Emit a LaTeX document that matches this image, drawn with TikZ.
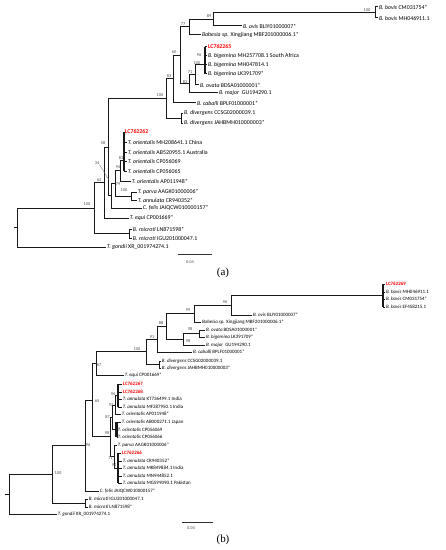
\documentclass[tikz,border=0pt]{standalone}
\usepackage{fontspec}
\setmainfont{Carlito}
\newfontfamily\panelfont{Liberation Serif}
\tikzset{
  leaf/.style={anchor=west, inner sep=0.8pt, font=\fontsize{#1}{7}\selectfont},
  leaf/.default=5.9,
  newseq/.style={leaf=#1, text=red, font=\fontsize{#1}{7}\selectfont\bfseries},
  newseq/.default=5.9,
  boot/.style={inner sep=0pt, text=black!70, font=\fontsize{4.4}{5}\selectfont},
  branch/.style={line width=1pt, black!90},
  clade/.style={line width=2.1pt, black!90},
}
\begin{document}
\begin{tikzpicture}[x=1bp, y=-1bp]
\useasboundingbox (0,0) rectangle (446,550);

%%%% tree (a)
\node[leaf] (aBovCM) at (378,7) {\textit{B. bovis} CM031754*};
\node[leaf] (aBovMH) at (378,18) {\textit{B. bovis} MH046911.1};
\node[leaf] (aOvis) at (242,26) {\textit{B. ovis} BLIY01000007*};
\node[leaf] (aBabSp) at (201,35) {\textit{Babesia sp.} Xingjiang MBF201000006.1*};
\node[newseq] (aLC65) at (207,47) {LC762265};
\node[leaf] (aBigSA) at (207,56) {\textit{B. bigemina} MH257708.1 South Africa};
\node[leaf] (aBigMH) at (207,65) {\textit{B. bigemina} MH047814.1};
\node[leaf] (aBigLK) at (207,74) {\textit{B. bigemina} LK391709*};
\node[leaf] (aOvata) at (199,85) {\textit{B. ovata} BDSA01000001*};
\node[leaf] (aMajor) at (218,93) {\textit{B. major}~ GU194290.1};
\node[leaf] (aCaballi) at (196,103) {\textit{B. caballi} BPLF01000001*};
\node[leaf] (aDivCC) at (183,113) {\textit{B. divergens} CCSG02000039.1};
\node[leaf] (aDivJA) at (183,123) {\textit{B. divergens} JAHBMH010000003*};
\node[newseq] (aLC62) at (124,132) {LC762262};
\node[leaf] (aOrMH) at (127,142) {\textit{T. orientalis} MH208641.1 China};
\node[leaf] (aOrAB) at (127,152) {\textit{T. orientalis} AB520955.1 Australia};
\node[leaf] (aOrCP69) at (127,161) {\textit{T. orientalis} CP056069};
\node[leaf] (aOrCP65) at (127,171) {\textit{T. orientalis} CP056065};
\node[leaf] (aOrAP) at (131,181) {\textit{T. orientalis} AP011948*};
\node[leaf] (aParva) at (137,192) {\textit{T. parva} AAGK01000006*};
\node[leaf] (aAnnCR) at (137,200) {\textit{T. annulata} CR940352*};
\node[leaf] (aFelis) at (142,208) {\textit{C. felis} JAIQCW010000157*};
\node[leaf] (aEqui) at (129,218) {\textit{T. equi} CP001669*};
\node[leaf] (aMicLN) at (132,229) {\textit{B. microti} LN871598*};
\node[leaf] (aMicIG) at (132,238) {\textit{B. microti} IGU201000047.1};
\node[leaf] (aGondii) at (106,247) {\textit{T. gondii} XR\_001974274.1};

\coordinate (aStub) at (14,227.5);
\coordinate (aRoot) at (17,227.5);
\coordinate (aN100t) at (94,208);
\coordinate (aMic) at (129,233.5);
\coordinate (aN62) at (104,182.5);
\coordinate (aN58) at (108,147);
\coordinate (aN34) at (111,195.5);
\coordinate (aN79) at (115,183);
\coordinate (aPA) at (131,196);
\coordinate (aN94) at (120,170.5);
\coordinate (aOr) at (124,160);
\coordinate (aN100b) at (166,98.5);
\coordinate (aDiv) at (181,118);
\coordinate (aN83) at (173,79);
\coordinate (aN60) at (180,55.5);
\coordinate (aN77) at (189,27);
\coordinate (aN89) at (213,19.25);
\coordinate (aBov) at (375,12.5);
\coordinate (aN82) at (189,84);
\coordinate (aN71) at (195,75);
\coordinate (aBig) at (205,65);

\draw[branch] (aStub) -- (aRoot);
\draw[branch] (aRoot) |- (aN100t);
\draw[branch] (aRoot) |- (aGondii.west);
\draw[branch] (aN100t) |- (aN62);
\draw[branch] (aN100t) |- (aMic);
\draw[branch] (aMic) |- (aMicLN.west);
\draw[branch] (aMic) |- (aMicIG.west);
\draw[branch] (aN62) |- (aN58);
\draw[branch] (aN62) |- (aEqui.west);
\draw[branch] (aN58) |- (aN100b);
\draw[branch] (aN58) |- (aN34);
\draw[branch] (aN34) |- (aN79);
\draw[branch] (aN34) |- (aFelis.west);
\draw[branch] (aN79) |- (aN94);
\draw[branch] (aN79) |- (aPA);
\draw[branch] (aPA) |- (aParva.west);
\draw[branch] (aPA) |- (aAnnCR.west);
\draw[branch] (aN94) |- (aOr);
\draw[branch] (aN94) |- (aOrAP.west);
\draw[clade] (aOr |- aLC62.west) -- (aOr |- aOrCP65.west);
\foreach \lf in {aLC62,aOrMH,aOrAB,aOrCP69,aOrCP65}
  \draw[branch] (aOr |- \lf.west) -- (\lf.west);
\draw[branch] (aN100b) |- (aN83);
\draw[branch] (aN100b) |- (aDiv);
\draw[branch] (aDiv) |- (aDivCC.west);
\draw[branch] (aDiv) |- (aDivJA.west);
\draw[branch] (aN83) |- (aN60);
\draw[branch] (aN83) |- (aCaballi.west);
\draw[branch] (aN60) |- (aN77);
\draw[branch] (aN60) |- (aN82);
\draw[branch] (aN77) |- (aN89);
\draw[branch] (aN77) |- (aBabSp.west);
\draw[branch] (aN89) |- (aBov);
\draw[branch] (aN89) |- (aOvis.west);
\draw[branch] (aBov) |- (aBovCM.west);
\draw[branch] (aBov) |- (aBovMH.west);
\draw[branch] (aN82) |- (aN71);
\draw[branch] (aN82) |- (aMajor.west);
\draw[branch] (aN71) |- (aBig);
\draw[branch] (aN71) |- (aOvata.west);
\draw[clade] (aBig |- aLC65.west) -- (aBig |- aBigLK.west);
\foreach \lf in {aLC65,aBigSA,aBigMH,aBigLK}
  \draw[branch] (aBig |- \lf.west) -- (\lf.west);

% bootstrap values (a)
\node[boot] (baBov) at (367,10) {100};
\node[boot] (ba89) at (209,16) {89};
\node[boot] (ba77) at (183,24) {77};
\node[boot] (ba96) at (199,55) {96};
\node[boot] (baBig) at (197,63) {100};
\node[boot] (ba71) at (190,72) {71};
\node[boot] (ba82) at (185,82) {82};
\node[boot] (ba60) at (174,52) {60};
\node[boot] (ba83) at (169,76) {83};
\node[boot] (baBab) at (160,95) {100};
\node[boot] (ba58) at (103,143) {58};
\node[boot] (ba34) at (97,163) {34};
\coordinate (aLead) at (109,180);
\draw[line width=0.3pt, black!60] (ba34.south east) -- (aLead);
\node[boot] (ba62) at (99,180) {62};
\node[boot] (ba79) at (118,184) {79};
\node[boot] (ba94) at (118,167) {94};
\node[boot] (baOr83) at (121,158) {83};
\node[boot] (baPA) at (124,190) {100};
\node[boot] (baTh) at (87,204) {100};

\coordinate (aSc1) at (178,254);
\coordinate (aSc2) at (212,254);
\draw[line width=0.6pt, black!80] (aSc1) -- (aSc2);
\node[boot] (aScale) at (190,262) {0.04};
\node[font=\panelfont\fontsize{11}{12}\selectfont] (capA) at (223,273) {(a)};

%%%% tree (b)
\node[newseq=5] (bLC69) at (385,284) {LC762269};
\node[leaf=5] (bBovMH) at (385,292) {\textit{B. bovis} MH046911.1};
\node[leaf=5] (bBovCM) at (385,299) {\textit{B. bovis} CM031754*};
\node[leaf=5] (bBovEF) at (385,307) {\textit{B. bovis} EF458215.1};
\node[leaf=5] (bOvis) at (252,315) {\textit{B. ovis} BLIY01000007*};
\node[leaf=5] (bBabSp) at (201,322) {\textit{Babesia sp.} Xingjiang MBF201000006.1*};
\node[leaf=5] (bOvata) at (205,330) {\textit{B. ovata} BDSA01000001*};
\node[leaf=5] (bBigLK) at (205,337) {\textit{B. bigemina} LK391709*};
\node[leaf=5] (bMajor) at (205,345) {\textit{B. major}~ GU194290.1};
\node[leaf=5] (bCaballi) at (192,352) {\textit{B. caballi} BPLF01000001*};
\node[leaf=5] (bDivCC) at (161,361) {\textit{B. divergens} CCSG02000039.1};
\node[leaf=5] (bDivJA) at (161,368) {\textit{B. divergens} JAHBMH010000003*};
\node[leaf=5] (bEqui) at (124,375) {\textit{T. equi} CP001669*};
\node[newseq=5] (bLC67) at (122,384) {LC762267};
\node[newseq=5] (bLC68) at (122,392) {LC762268};
\node[leaf=5] (bAnnKT) at (122,399) {\textit{T. annulata} KT736499.1 India};
\node[leaf=5] (bAnnMF) at (122,407) {\textit{T. annulata} MF287950.1 India};
\node[leaf=5] (bOrAP) at (121,414) {\textit{T. orientalis} AP011948*};
\node[leaf=5] (bOrAB) at (121,422) {\textit{T. orientalis} AB000271.1 Japan};
\node[leaf=5] (bOrCP69) at (117,430) {\textit{T. orientalis} CP056069};
\node[leaf=5] (bOrCP66) at (117,437) {\textit{T. orientalis} CP056066};
\node[leaf=5] (bParva) at (117,445) {\textit{T. parva} AAGK01000006*};
\node[newseq=5] (bLC66) at (121,453) {LC762266};
\node[leaf=5] (bAnnCR) at (122,461) {\textit{T. annulata} CR940352*};
\node[leaf=5] (bAnnMK) at (122,468) {\textit{T. annulata} MK849884.1 India};
\node[leaf=5] (bAnnMN) at (122,476) {\textit{T. annulata} MN944852.1};
\node[leaf=5] (bAnnMG) at (122,483) {\textit{T. annulata} MG599090.1 Pakistan};
\node[leaf=5] (bFelis) at (99,491) {\textit{C. felis} JAIQCW010000157*};
\node[leaf=5] (bMicIG) at (88,499) {\textit{B. microti} IGU201000047.1};
\node[leaf=5] (bMicLN) at (88,507) {\textit{B. microti} LN871598*};
\node[leaf=5] (bGondii) at (57,514) {\textit{T. gondii} XR\_001974274.1};

\coordinate (bStub) at (5,494);
\coordinate (bRoot) at (9,494);
\coordinate (bN100) at (52,474.3);
\coordinate (bMic) at (85,503);
\coordinate (bN96) at (85,445.5);
\coordinate (bN65) at (92,400);
\coordinate (bN67) at (96,363.4);
\coordinate (bN100b) at (146,351.9);
\coordinate (bDiv) at (159,364.5);
\coordinate (bN91) at (157,339.2);
\coordinate (bN88) at (166,326.4);
\coordinate (bN99) at (194,313.6);
\coordinate (bN96b) at (231,305.25);
\coordinate (bBov) at (383,295.5);
\coordinate (bN98b) at (183,339.25);
\coordinate (bN98a) at (199,333.5);
\coordinate (bN98) at (110,436.8);
\coordinate (bN87) at (112.5,417);
\coordinate (bN92) at (115,405);
\coordinate (bCl96) at (118,395.5);
\coordinate (bOrG) at (116.5,429.5);
\coordinate (bN71) at (114.5,456.5);
\coordinate (bCl94) at (118,468);

\draw[branch] (bStub) -- (bRoot);
\draw[branch] (bRoot) |- (bN100);
\draw[branch] (bRoot) |- (bGondii.west);
\draw[branch] (bN100) |- (bN96);
\draw[branch] (bN100) |- (bMic);
\draw[branch] (bMic) |- (bMicIG.west);
\draw[branch] (bMic) |- (bMicLN.west);
\draw[branch] (bN96) |- (bN65);
\draw[branch] (bN96) |- (bFelis.west);
\draw[branch] (bN65) |- (bN67);
\draw[branch] (bN65) |- (bN98);
\draw[branch] (bN67) |- (bN100b);
\draw[branch] (bN67) |- (bEqui.west);
\draw[branch] (bN100b) |- (bN91);
\draw[branch] (bN100b) |- (bDiv);
\draw[branch] (bDiv) |- (bDivCC.west);
\draw[branch] (bDiv) |- (bDivJA.west);
\draw[branch] (bN91) |- (bN88);
\draw[branch] (bN91) |- (bCaballi.west);
\draw[branch] (bN88) |- (bN99);
\draw[branch] (bN88) |- (bN98b);
\draw[branch] (bN99) |- (bN96b);
\draw[branch] (bN99) |- (bBabSp.west);
\draw[branch] (bN96b) |- (bBov);
\draw[branch] (bN96b) |- (bOvis.west);
\draw[clade] (bBov |- bLC69.west) -- (bBov |- bBovEF.west);
\foreach \lf in {bLC69,bBovMH,bBovCM,bBovEF}
  \draw[branch] (bBov |- \lf.west) -- (\lf.west);
\draw[branch] (bN98b) |- (bN98a);
\draw[branch] (bN98b) |- (bMajor.west);
\draw[branch] (bN98a) |- (bOvata.west);
\draw[branch] (bN98a) |- (bBigLK.west);
\draw[branch] (bN98) |- (bN87);
\draw[branch] (bN98) |- (bN71);
\draw[branch] (bN87) |- (bN92);
\draw[branch] (bN87) |- (bOrG);
\draw[branch] (bN92) |- (bCl96);
\draw[branch] (bN92) |- (bOrAP.west);
\draw[clade] (bCl96 |- bLC67.west) -- (bCl96 |- bAnnMF.west);
\foreach \lf in {bLC67,bLC68,bAnnKT,bAnnMF}
  \draw[branch] (bCl96 |- \lf.west) -- (\lf.west);
\draw[clade] (bOrG |- bOrAB.west) -- (bOrG |- bOrCP66.west);
\foreach \lf in {bOrAB,bOrCP69,bOrCP66}
  \draw[branch] (bOrG |- \lf.west) -- (\lf.west);
\draw[branch] (bN71) |- (bParva.west);
\draw[branch] (bN71) |- (bCl94);
\draw[clade] (bCl94 |- bLC66.west) -- (bCl94 |- bAnnMG.west);
\foreach \lf in {bLC66,bAnnCR,bAnnMK,bAnnMN,bAnnMG}
  \draw[branch] (bCl94 |- \lf.west) -- (\lf.west);

% bootstrap values (b)
\node[boot] (bb99) at (188,310) {99};
\node[boot] (bb96a) at (225,302) {96};
\node[boot] (bb98a) at (190,329.5) {98};
\node[boot] (bb98b) at (188,341) {98};
\node[boot] (bb88) at (161,323) {88};
\node[boot] (bb91) at (152,337) {91};
\node[boot] (bb100a) at (137,349) {100};
\node[boot] (bb67) at (99,365) {67};
\node[boot] (bb65) at (97,401) {65};
\node[boot] (bb96b) at (113,394) {96};
\node[boot] (bb92) at (111,405) {92};
\node[boot] (bb87) at (107.5,417) {87};
\node[boot] (bb98c) at (107,433) {98};
\node[boot] (bb71) at (110.5,458) {71};
\node[boot] (bb94) at (114,465) {94};
\node[boot] (bb96c) at (88,445) {96};
\node[boot] (bb100b) at (58,473) {100};

\coordinate (bSc1) at (182,522);
\coordinate (bSc2) at (213,522);
\draw[line width=0.6pt, black!80] (bSc1) -- (bSc2);
\node[boot] (bScale) at (191,528) {0.04};
\node[font=\panelfont\fontsize{11}{12}\selectfont] (capB) at (223,540) {(b)};
\end{tikzpicture}
\end{document}
